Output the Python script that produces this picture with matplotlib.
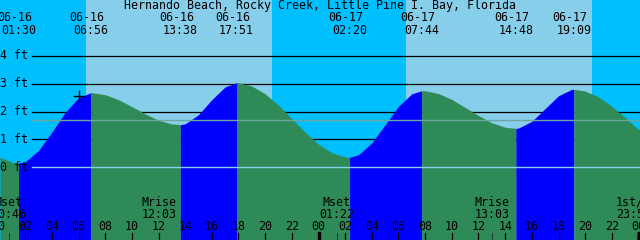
import numpy as np
import matplotlib
matplotlib.use("Agg")
import matplotlib.pyplot as plt
import matplotlib.transforms as mtransforms

# tide level (ft), every hour from 06-16 00:00
hours = list(range(49))
levels = [0.39, 0.18, 0.20, 0.60, 1.26, 1.97, 2.50, 2.68, 2.61, 2.43,
          2.18, 1.92, 1.69, 1.56, 1.56, 1.89, 2.43, 2.89, 3.04, 2.92,
          2.64, 2.23, 1.74, 1.26, 0.83, 0.52, 0.37, 0.45, 0.88, 1.53,
          2.19, 2.64, 2.75, 2.65, 2.44, 2.15, 1.86, 1.60, 1.44, 1.41,
          1.65, 2.11, 2.57, 2.80, 2.74, 2.53, 2.19, 1.79, 1.36]

# highs and lows
tide_dates = ["06-16", "06-16", "06-16", "06-16", "06-17", "06-17", "06-17", "06-17"]
tide_times = ["01:30", "06:56", "13:38", "17:51", "02:20", "07:44", "14:48", "19:09"]
tide_levels = [0.15, 2.68, 1.53, 3.04, 0.36, 2.75, 1.40, 2.80]
tide_kind = ["low", "high", "low", "high", "low", "high", "low", "high"]

# moon events
moon_labels = ["Mset", "Mrise", "Mset", "Mrise", "1st/Q"]
moon_dates = ["06-16", "06-16", "06-17", "06-17", "06-17"]
moon_times = ["00:46", "12:03", "01:22", "13:03", "23:54"]

# sun
sunrise = [("06-16", "06:34"), ("06-17", "06:34")]
sunset = [("06-16", "20:31"), ("06-17", "20:31")]

now_time = ("06-16", "06:03")
msl = 1.69
grid_ft = [1, 2, 3, 4]

title = "Hernando Beach, Rocky Creek, Little Pine I. Bay, Florida"


def to_hours(date, hm):
    day = int(date.split("-")[1]) - 16
    h, m = hm.split(":")
    return day * 24 + int(h) + int(m) / 60


W, H = 640, 240
t0 = 0.1125
span = 48.0

plt.rcParams['font.family'] = ['DejaVu Sans Mono']
fs = 8.4

fig = plt.figure(figsize=(6.4, 2.4), dpi=100)
ax = fig.add_axes([0, 0, 1, 1])
ax.set_xlim(t0, t0 + span)
ax.set_ylim(-2.612, 6.011)
ax.axis('off')

night = '#00BFFF'
day = '#87CEEB'
rise_c = '#0000FF'
fall_c = '#2E8B57'

# sky
ax.axvspan(t0, t0 + span, color=night, zorder=0, lw=0)
for (d1, s1), (d2, s2) in zip(sunrise, sunset):
    ax.axvspan(to_hours(d1, s1), to_hours(d2, s2), color=day, zorder=0.5, lw=0)

# grid lines behind the water
x_grid = 32 / W
for g in grid_ft:
    ax.axhline(g, xmin=x_grid, color='black', lw=0.9, zorder=1)

# tide curve: hourly readings plus the extremes
ev_t = [to_hours(d, s) for d, s in zip(tide_dates, tide_times)]
t_all = np.array(hours + ev_t, dtype=float)
y_all = np.array(levels + tide_levels, dtype=float)
order = np.argsort(t_all)
t_all, y_all = t_all[order], y_all[order]

# each segment is coloured by the extreme it starts from
bounds = [t0] + ev_t + [t0 + span]
kinds = ["high"] + tide_kind
for a, b, k in zip(bounds[:-1], bounds[1:], kinds):
    seg = (t_all >= a) & (t_all <= b)
    xs = np.concatenate([[a], t_all[seg], [b]])
    ys = np.concatenate([[np.interp(a, t_all, y_all)], y_all[seg], [np.interp(b, t_all, y_all)]])
    col = rise_c if k == "low" else fall_c
    ax.fill_between(xs, ys, -3, color=col, lw=0, zorder=2)

# datum and mean sea level
ax.axhline(0, xmin=x_grid, color='#87CEEB', lw=1.0, zorder=3)
ax.axhline(msl, xmin=x_grid, color='#6EA5A0', lw=1.0, zorder=3)

# now marker
nt = to_hours(*now_time)
ax.plot([nt], [np.interp(nt, t_all, y_all) + 0.05], marker='+', ms=9, mew=1.0,
        color='black', zorder=4)

# y labels
tr_y = mtransforms.blended_transform_factory(fig.transFigure, ax.transData)
for g in [0] + grid_ft:
    ax.text(0, g, f"{g} ft", transform=tr_y, ha='left', va='center',
            fontsize=fs, color='black', zorder=5)

tr = mtransforms.blended_transform_factory(ax.transData, fig.transFigure)
tr_date = mtransforms.offset_copy(tr, fig=fig, x=-4, y=0, units='dots')


def ypx(p):
    return 1 - p / H


fig.text(0.5, ypx(6), title, ha='center', va='center', fontsize=fs)

for t, d, s in zip(ev_t, tide_dates, tide_times):
    ax.text(t, ypx(17.5), d, transform=tr_date, ha='center', va='center', fontsize=fs, clip_on=False)
    ax.text(t, ypx(30), s, transform=tr, ha='center', va='center', fontsize=fs, clip_on=False)

for lab, d, s in zip(moon_labels, moon_dates, moon_times):
    t = to_hours(d, s)
    trm = tr_date if lab.startswith("1st") else tr
    ax.text(t, ypx(202), lab, transform=trm, ha='center', va='center', fontsize=fs, clip_on=False)
    ax.text(t, ypx(214), s, transform=trm, ha='center', va='center', fontsize=fs, clip_on=False)
    ax.axvline(t, ymin=0, ymax=7 / H, color='#303030', lw=0.7, zorder=5)

# hour ticks and labels
for h in range(0, 50, 2):
    lbl = f"{h % 24:02d}"
    ax.text(h, ypx(226), lbl, transform=tr, ha='center', va='center', fontsize=fs, clip_on=False)
    lw = 2.4 if h % 24 == 0 else 0.9
    ax.axvline(h, ymin=0, ymax=7 / H, color='black', lw=lw, zorder=5)

fig.savefig("out.png", dpi=100)
